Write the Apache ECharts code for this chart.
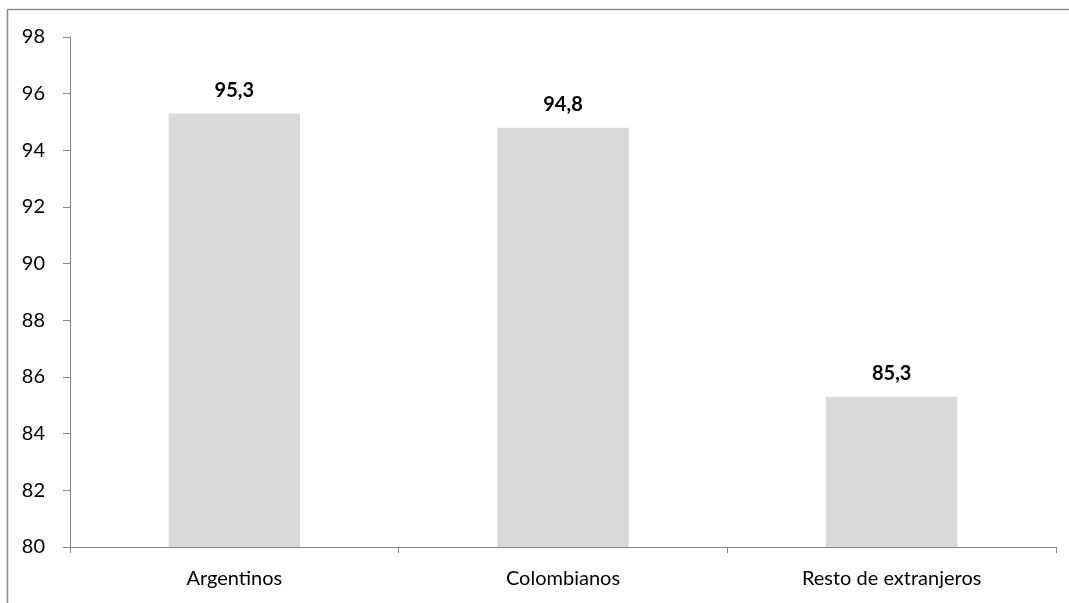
<!DOCTYPE html>
<html>
<head>
<meta charset="utf-8">
<script src="https://cdn.jsdelivr.net/npm/echarts@6/dist/echarts.min.js"></script>
<style>
html,body{margin:0;padding:0;background:#fff;}
#chart{width:1069px;height:603px;}
</style>
</head>
<body>
<div id="chart"></div>
<script>
const categories = ['Argentinos', 'Colombianos', 'Resto de extranjeros'];
const values = [95.3, 94.8, 85.3];
const yMin = 80, yMax = 98, yStep = 2;

const chart = echarts.init(document.getElementById('chart'), null, {renderer: 'canvas'});
const font = 'Lato, "Open Sans", sans-serif';
chart.setOption({
  animation: false,
  graphic: [
    {type: 'line', shape: {x1: 7.5, y1: 9.5, x2: 1069, y2: 9.5}, style: {stroke: '#8c8c8c', lineWidth: 1.5}},
    {type: 'line', shape: {x1: 7.5, y1: 9.5, x2: 7.5, y2: 603}, style: {stroke: '#8c8c8c', lineWidth: 1.5}}
  ],
  grid: {left: 70, right: 13, top: 37, bottom: 56, containLabel: false},
  xAxis: {
    type: 'category',
    data: categories,
    axisLine: {lineStyle: {color: '#868686', width: 1}},
    axisTick: {show: true, alignWithLabel: false, length: 6, lineStyle: {color: '#868686'}},
    axisLabel: {color: '#000', fontSize: 20, fontFamily: font, margin: 22}
  },
  yAxis: {
    type: 'value',
    min: yMin, max: yMax, interval: yStep,
    splitLine: {show: false},
    axisLine: {show: true, lineStyle: {color: '#868686', width: 1}},
    axisTick: {show: true, length: 7, lineStyle: {color: '#868686'}},
    axisLabel: {color: '#000', fontSize: 20, fontFamily: font, margin: 25}
  },
  series: [{
    type: 'bar',
    data: values,
    barCategoryGap: '60%',
    itemStyle: {color: '#d9d9d9'},
    label: {
      show: true, position: 'top', distance: 13,
      color: '#000', fontSize: 20, fontWeight: 'bold', fontFamily: font,
      formatter: p => String(p.value).replace('.', ',')
    }
  }]
});
</script>
</body>
</html>
